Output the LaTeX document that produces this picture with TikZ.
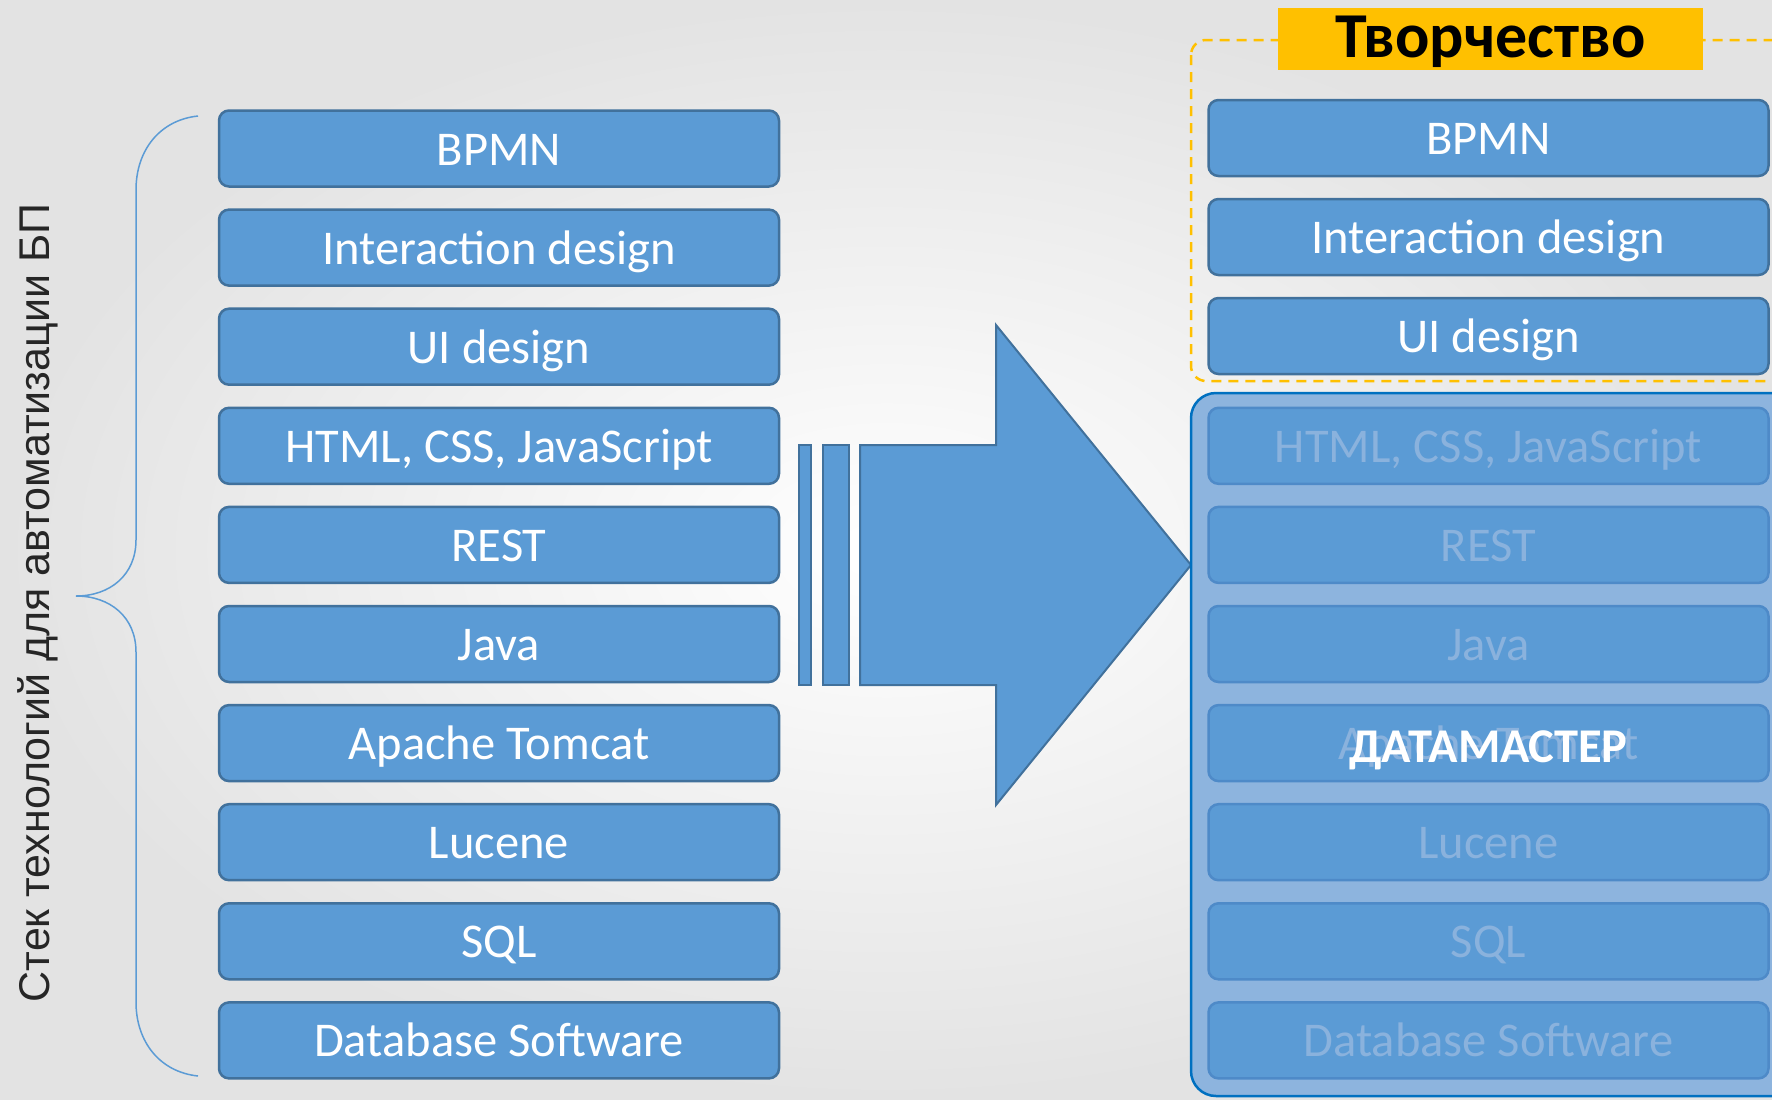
\documentclass[tikz,border=0pt]{standalone}
\usepackage{fontspec}
\setmainfont{Carlito}
\newfontfamily\labelfont{Liberation Sans}

\definecolor{boxblue}{HTML}{5B9BD5}
\definecolor{boxedge}{HTML}{41719C}
\definecolor{fadeedge}{HTML}{4E8AC8}
\definecolor{fadetext}{HTML}{8AB2DD}
\definecolor{stackfill}{HTML}{8DB4DE}
\definecolor{stackedge}{HTML}{0070C0}
\definecolor{creative}{HTML}{FFC000}

\begin{document}
\begin{tikzpicture}[x=1pt, y=-1pt,
  techbox/.style={draw=boxedge, fill=boxblue, line width=2.5pt, rounded corners=10pt,
    minimum width=560pt, minimum height=76pt, inner sep=0pt, text=white,
    font=\fontsize{48.5}{56}\selectfont, text height=33pt, text depth=0pt},
  fadebox/.style={techbox, draw=fadeedge, text=fadetext},
  arrowpart/.style={draw=boxedge, fill=boxblue, line width=2pt}]

  % background
  \path[use as bounding box] (0,0) rectangle (1772,1100);
  \shade[inner color=white, outer color=black!11] (0,0) rectangle (1772,1100);
  \clip (0,0) rectangle (1772,1100);

  % left stack
  \node[rotate=90, text=black!85, font=\labelfont\fontsize{43}{50}\selectfont,
    text height=31pt, text depth=0pt] (stack) at (34,603) {Стек технологий для автоматизации БП};
  \draw[boxblue, line width=1.5pt] (198,116) .. controls (160,120) and (136,150) .. (136,190)
    -- (136,540) .. controls (136,575) and (110,596) .. (76,596)
    .. controls (110,596) and (136,617) .. (136,652) -- (136,1002)
    .. controls (136,1042) and (160,1072) .. (198,1076);
  \foreach \t [count=\i] in {BPMN, Interaction design, UI design, {HTML, CSS, JavaScript},
      REST, Java, Apache Tomcat, Lucene, SQL, Database Software}
    \node[techbox] (l\i) at (499,{148.5+99.1*(\i-1)}) {\t};

  % arrow
  \draw[arrowpart] (799,445) rectangle (811,685);
  \draw[arrowpart] (823,445) rectangle (849,685);
  \draw[arrowpart] (860,445) -- (996,445) -- (996,325) -- (1191,565) -- (996,805)
    -- (996,685) -- (860,685) -- cycle;

  % right stack
  \draw[creative, line width=2.5pt, dash pattern=on 10pt off 7pt, rounded corners=15pt]
    (1191,40) rectangle (1830,381);
  \node[fill=creative, minimum width=425pt, minimum height=62pt, inner sep=0pt,
    font=\bfseries\fontsize{64}{72}\selectfont, text height=36pt, text depth=0pt]
    (creat) at (1490.5,39) {Творчество};
  \draw[stackedge, fill=stackfill, line width=2.5pt, rounded corners=25pt]
    (1191,393) rectangle (1830,1096);
  \foreach \t [count=\i] in {BPMN, Interaction design, UI design}
    \node[techbox] (r\i) at (1488.5,{138+99*(\i-1)}) {\t};
  \foreach \t [count=\i from 4] in {{HTML, CSS, JavaScript}, REST, Java, Apache Tomcat,
      Lucene, SQL, Database Software}
    \node[fadebox] (r\i) at (1488.5,{148.5+99.1*(\i-1)}) {\t};
  \node[text=white, font=\bfseries\fontsize{48.5}{56}\selectfont, text height=39pt,
    text depth=0pt] (dm) at (r7.center) {ДАТАМАСТЕР};
\end{tikzpicture}
\end{document}
